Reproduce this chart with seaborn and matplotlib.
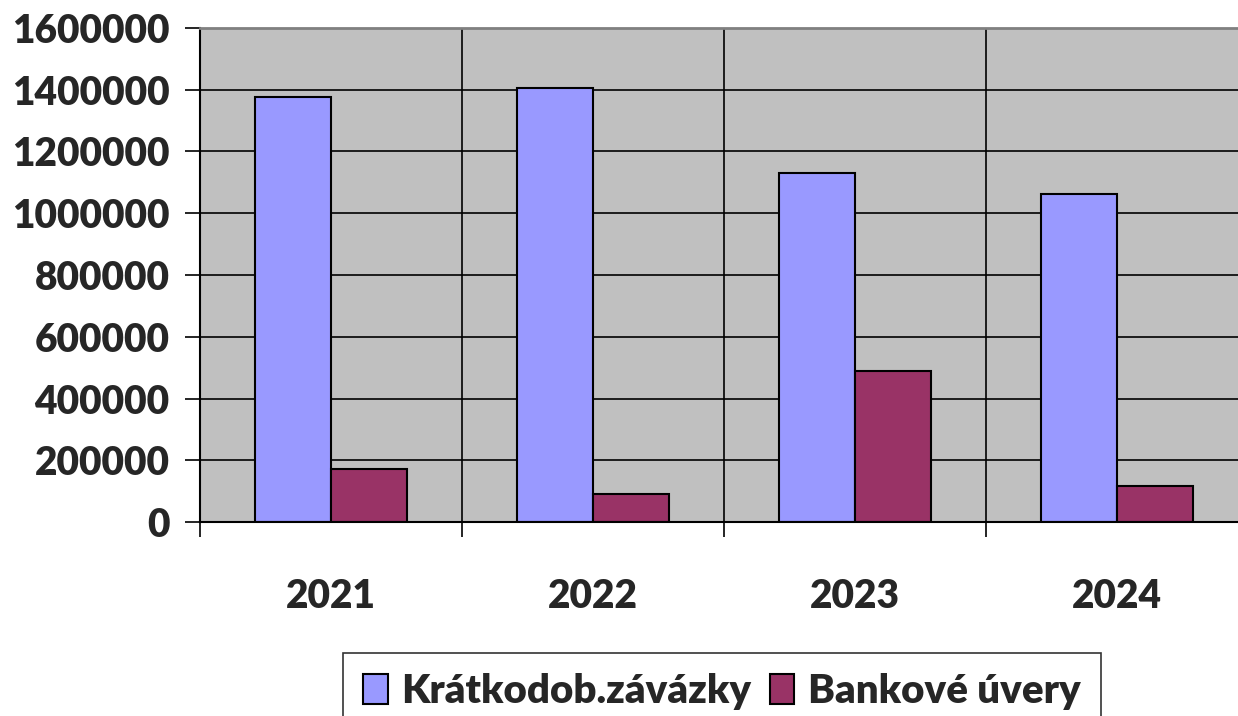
import pandas as pd
import matplotlib
matplotlib.use("Agg")
import matplotlib.pyplot as plt
import seaborn as sns

years = ["2021", "2022", "2023", "2024"]
kratkodob = [1378000, 1406000, 1129000, 1063000]
bankove = [173000, 91000, 490000, 115000]
series_names = ["Krátkodob.závázky", "Bankové úvery"]
colors = ["#9999FF", "#993366"]
y_ticks = [0, 200000, 400000, 600000, 800000, 1000000, 1200000, 1400000, 1600000]

df = pd.DataFrame({
    "rok": years * 2,
    "hodnota": kratkodob + bankove,
    "serie": [series_names[0]] * 4 + [series_names[1]] * 4,
})

sns.set_style("white")
plt.rcParams["font.family"] = ["Lato", "DejaVu Sans"]
plt.rcParams["font.weight"] = "heavy"

fig = plt.figure(figsize=(12.38, 7.16), dpi=100)
ax = fig.add_axes([200 / 1238, 1 - 522 / 716, 1048 / 1238, 494 / 716])
ax.set_facecolor("#C0C0C0")

sns.barplot(data=df, x="rok", y="hodnota", hue="serie", palette=colors,
            width=0.58, gap=0, edgecolor="black", linewidth=1.5,
            saturation=1, ax=ax)

ax.set_ylim(0, 1600000)
ax.set_xlim(-0.5, 3.5)
ax.set_yticks(y_ticks)
ax.set_yticklabels([str(v) for v in y_ticks])
ax.set_xticks([-0.5, 0.5, 1.5, 2.5, 3.5], minor=True)
ax.set_xlabel("")
ax.set_ylabel("")

ax.set_axisbelow(True)
ax.yaxis.grid(True, color="black", linewidth=1.2)
ax.xaxis.grid(True, which="minor", color="black", linewidth=1.2)
ax.xaxis.grid(False, which="major")

ax.tick_params(axis="y", direction="out", length=11, width=1.2, pad=11,
               labelsize=28, left=True, color="black")
ax.tick_params(axis="x", which="major", length=0, pad=40, labelsize=28)
ax.tick_params(axis="x", which="minor", direction="out", length=11, width=1.2,
               bottom=True, color="black")
for lbl in ax.get_xticklabels() + ax.get_yticklabels():
    lbl.set_fontweight("heavy")

for side in ["left", "bottom"]:
    ax.spines[side].set_color("black")
    ax.spines[side].set_linewidth(1.5)
ax.spines["top"].set_color("#808080")
ax.spines["top"].set_linewidth(2)
ax.spines["right"].set_visible(False)

handles, labels = ax.get_legend_handles_labels()
ax.get_legend().remove()
leg = fig.legend(handles, labels, loc="upper center",
                 bbox_to_anchor=(722 / 1238, 1 - 653 / 716), ncol=2,
                 frameon=True, fancybox=False, edgecolor="black",
                 prop={"size": 29, "weight": "heavy"},
                 handlelength=0.6, handleheight=0.75, handletextpad=0.35,
                 columnspacing=0.45, borderpad=0.5, borderaxespad=0)
leg.get_frame().set_linewidth(1.2)

fig.savefig("out.png", dpi=100)
